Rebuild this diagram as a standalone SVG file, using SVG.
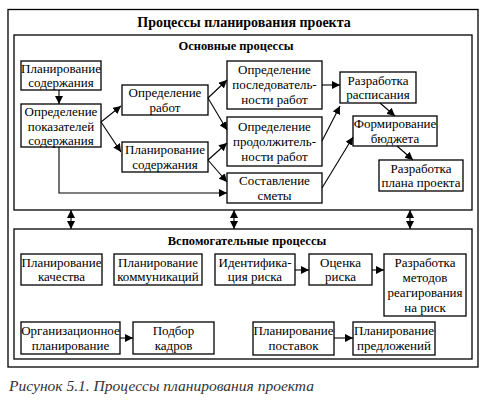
<svg xmlns="http://www.w3.org/2000/svg" width="489" height="410" viewBox="0 0 489 410" font-family="Liberation Serif, serif">
<defs>
<marker id="ah" viewBox="0 0 8 8" refX="8" refY="4" markerWidth="8" markerHeight="8" markerUnits="userSpaceOnUse" orient="auto-start-reverse">
<path d="M0,0 L8,4 L0,8 z" fill="#000"/>
</marker>
<style>
.frame{fill:#fff;stroke:#000;stroke-width:1.3}
.box{fill:#fff;stroke:#000;stroke-width:1.3}
.t{font-size:13px;fill:#000;text-anchor:middle}
.h{font-weight:bold;fill:#000;text-anchor:middle}
.c line,.c polyline{stroke:#000;stroke-width:1.1;fill:none;marker-end:url(#ah)}
.c .d{marker-start:url(#ah)}
.cap{font-style:italic;font-size:15px;fill:#333}
</style>
</defs>
<rect width="489" height="410" fill="#fff"/>
<rect class="frame" x="8" y="9.5" width="470" height="357.5"/>
<text class="h" x="244" y="27" font-size="14" font-family="Liberation Serif, serif">Процессы планирования проекта</text>
<rect class="frame" x="14" y="35" width="458" height="175"/>
<text class="h" x="236" y="50" font-size="12.5">Основные процессы</text>
<rect class="frame" x="14" y="229" width="458" height="130"/>
<text class="h" x="247" y="245" font-size="12.5">Вспомогательные процессы</text>

<g id="n1"><rect class="box" x="21" y="61" width="80" height="29"/><text class="t" x="61" y="73">Планирование</text><text class="t" x="61" y="87">содержания</text></g>
<g id="n2"><rect class="box" x="21" y="104" width="80" height="43"/><text class="t" x="61" y="116">Определение</text><text class="t" x="61" y="131">показателей</text><text class="t" x="61" y="145">содержания</text></g>
<g id="n3"><rect class="box" x="122" y="85" width="86" height="30"/><text class="t" x="165" y="97">Определение</text><text class="t" x="165" y="112">работ</text></g>
<g id="n4"><rect class="box" x="122" y="142" width="86" height="30"/><text class="t" x="165" y="154">Планирование</text><text class="t" x="165" y="169">содержания</text></g>
<g id="n5"><rect class="box" x="227" y="61" width="95" height="48"/><text class="t" x="274.5" y="74">Определение</text><text class="t" x="274.5" y="89">последователь-</text><text class="t" x="274.5" y="104">ности работ</text></g>
<g id="n6"><rect class="box" x="227" y="117" width="95" height="49"/><text class="t" x="274.5" y="131">Определение</text><text class="t" x="274.5" y="146">продолжитель-</text><text class="t" x="274.5" y="161">ности работ</text></g>
<g id="n7"><rect class="box" x="227" y="173" width="95" height="30"/><text class="t" x="274.5" y="185">Составление</text><text class="t" x="274.5" y="200">сметы</text></g>
<g id="n8"><rect class="box" x="340" y="72" width="76" height="31"/><text class="t" x="378" y="85">Разработка</text><text class="t" x="378" y="99">расписания</text></g>
<g id="n9"><rect class="box" x="353" y="116" width="84" height="30"/><text class="t" x="395" y="128">Формирование</text><text class="t" x="395" y="143">бюджета</text></g>
<g id="n10"><rect class="box" x="379" y="160" width="84" height="31"/><text class="t" x="421" y="173">Разработка</text><text class="t" x="421" y="187">плана проекта</text></g>

<g id="s1"><rect class="box" x="21" y="254" width="81" height="31"/><text class="t" x="61.5" y="267">Планирование</text><text class="t" x="61.5" y="281">качества</text></g>
<g id="s2"><rect class="box" x="114" y="254" width="88" height="31"/><text class="t" x="158" y="267">Планирование</text><text class="t" x="158" y="281">коммуникаций</text></g>
<g id="s3"><rect class="box" x="215" y="254" width="80" height="31"/><text class="t" x="255" y="267">Идентифика-</text><text class="t" x="255" y="281">ция риска</text></g>
<g id="s4"><rect class="box" x="309" y="254" width="63" height="31"/><text class="t" x="340.5" y="267">Оценка</text><text class="t" x="340.5" y="281">риска</text></g>
<g id="s5"><rect class="box" x="384" y="254" width="82" height="62"/><text class="t" x="425" y="267">Разработка</text><text class="t" x="425" y="282">методов</text><text class="t" x="425" y="297">реагирования</text><text class="t" x="425" y="312">на риск</text></g>
<g id="s6"><rect class="box" x="21" y="322" width="99" height="32"/><text class="t" x="70.5" y="335">Организационное</text><text class="t" x="70.5" y="350">планирование</text></g>
<g id="s7"><rect class="box" x="133" y="322" width="81" height="32"/><text class="t" x="173.5" y="335">Подбор</text><text class="t" x="173.5" y="350">кадров</text></g>
<g id="s8"><rect class="box" x="253" y="322" width="81" height="33"/><text class="t" x="293.5" y="335">Планирование</text><text class="t" x="293.5" y="350">поставок</text></g>
<g id="s9"><rect class="box" x="353" y="322" width="82" height="33"/><text class="t" x="394" y="335">Планирование</text><text class="t" x="394" y="350">предложений</text></g>

<g id="connectors" class="c">
<line x1="59" y1="90" x2="59" y2="104"/>
<line x1="101" y1="122" x2="121" y2="106"/>
<line x1="101" y1="122" x2="121" y2="152"/>
<polyline points="59,147 59,193 227,193"/>
<line x1="208" y1="98" x2="227" y2="80"/>
<line x1="208" y1="98" x2="227" y2="130"/>
<line x1="208" y1="160" x2="227" y2="143"/>
<line x1="208" y1="160" x2="227" y2="182"/>
<line x1="322" y1="85" x2="340" y2="85"/>
<line x1="322" y1="141" x2="340" y2="106"/>
<line x1="322" y1="188" x2="353" y2="137"/>
<line x1="380" y1="103" x2="395" y2="116"/>
<line x1="397" y1="146" x2="413" y2="160"/>
<line class="d" x1="71" y1="210" x2="71" y2="229"/>
<line class="d" x1="234" y1="210" x2="234" y2="229"/>
<line class="d" x1="410" y1="210" x2="410" y2="229"/>
<line x1="295" y1="270" x2="309" y2="270"/>
<line x1="372" y1="270" x2="384" y2="270"/>
<line x1="120" y1="338" x2="133" y2="338"/>
<line x1="334" y1="338" x2="353" y2="338"/>
</g>
<text class="cap" x="9" y="391" textLength="305" lengthAdjust="spacingAndGlyphs">Рисунок 5.1. Процессы планирования проекта</text>
</svg>
